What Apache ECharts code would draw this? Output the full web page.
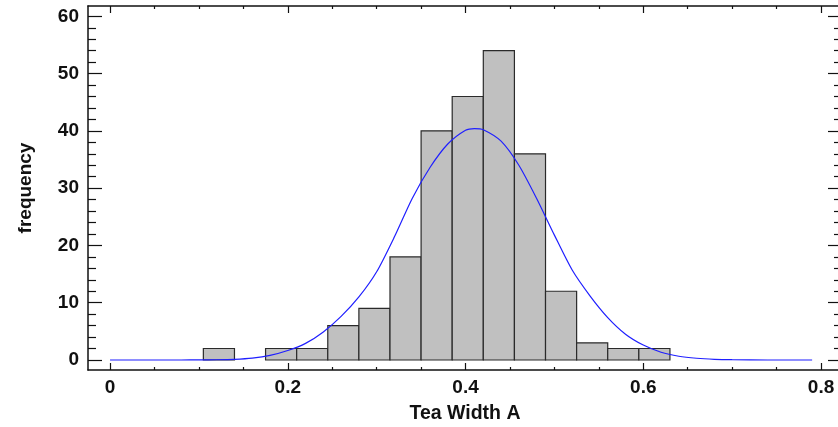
<!DOCTYPE html>
<html>
<head>
<meta charset="utf-8">
<script src="https://cdn.jsdelivr.net/npm/echarts@6/dist/echarts.min.js"></script>
<style>html,body{margin:0;padding:0;background:#fff;}#c{width:838px;height:427px;}</style>
</head>
<body>
<div id="c"></div>
<script>
// Histogram bins (start of each bin) and counts
const binWidth = 0.035;
const binStarts = [0.105, 0.140, 0.175, 0.210, 0.245, 0.280, 0.315, 0.350, 0.385, 0.420, 0.455, 0.490, 0.525, 0.560, 0.595];
const counts    = [2,     0,     2,     2,     6,     9,     18,    40,    46,    54,    36,    12,    3,     2,     2];

// Fitted curve
const curveX = [0, 0.04, 0.08, 0.10, 0.12, 0.14, 0.16, 0.18, 0.20, 0.22, 0.24, 0.26, 0.28, 0.30, 0.32, 0.34, 0.36, 0.38, 0.40, 0.41, 0.42, 0.44, 0.46, 0.48, 0.50, 0.52, 0.54, 0.56, 0.58, 0.60, 0.62, 0.64, 0.66, 0.68, 0.70, 0.74, 0.79];
const curveY = [0, 0, 0, 0.01, 0.04, 0.12, 0.33, 0.8, 1.65, 2.9, 4.9, 7.6, 11.0, 15.4, 21.5, 28.2, 33.6, 37.7, 40.1, 40.4, 40.2, 38.2, 34.0, 28.2, 21.8, 15.7, 11.2, 7.4, 4.5, 2.6, 1.35, 0.65, 0.3, 0.12, 0.05, 0, 0];

// Tick labels
const xMajor = [0, 0.2, 0.4, 0.6, 0.8];
const xMinor = [0.05, 0.1, 0.15, 0.25, 0.3, 0.35, 0.45, 0.5, 0.55, 0.65, 0.7, 0.75];
const yMajor = [0, 10, 20, 30, 40, 50, 60];
const yMinor = [2, 4, 6, 8, 12, 14, 16, 18, 22, 24, 26, 28, 32, 34, 36, 38, 42, 44, 46, 48, 52, 54, 56, 58];

const xMin = -0.0248, xMax = 0.8236;
const yMin = -1.75, yMax = 61.8;
const FONT = 'Liberation Sans, Arial, sans-serif';
const black = '#111';

function xAxisDef(pos, ticks, len, showLine, showLabel, name) {
  return {
    type: 'value', position: pos, min: xMin, max: xMax,
    splitLine: {show: false},
    axisLine: {show: showLine, onZero: false, lineStyle: {color: black, width: 1.5}},
    axisTick: {show: true, inside: true, length: len, customValues: ticks, lineStyle: {color: black, width: 1.2}},
    axisLabel: {show: showLabel, customValues: ticks, margin: 8, fontFamily: FONT, fontWeight: 'bold', fontSize: 19, color: black,
      formatter: v => (v === 0 ? '0' : String(Math.round(v * 10) / 10))},
    name: name || '', nameLocation: 'middle', nameGap: 34,
    nameTextStyle: {fontFamily: FONT, fontWeight: 'bold', fontSize: 19.5, color: black}
  };
}
function yAxisDef(pos, ticks, len, showLine, showLabel, name) {
  return {
    type: 'value', position: pos, min: yMin, max: yMax,
    splitLine: {show: false},
    axisLine: {show: showLine, onZero: false, lineStyle: {color: black, width: 1.5}},
    axisTick: {show: true, inside: true, length: len, customValues: ticks, lineStyle: {color: black, width: 1.2}},
    axisLabel: {show: showLabel, customValues: ticks, margin: 9, fontFamily: FONT, fontWeight: 'bold', fontSize: 19, color: black},
    name: name || '', nameLocation: 'middle', nameGap: 53, nameRotate: 90,
    nameTextStyle: {fontFamily: FONT, fontWeight: 'bold', fontSize: 19, color: black}
  };
}

const chart = echarts.init(document.getElementById('c'), null, {renderer: 'canvas'});
chart.setOption({
  animation: false,
  backgroundColor: '#fff',
  grid: {left: 88, top: 6, width: 754, height: 364, containLabel: false, outerBoundsMode: 'none'},
  xAxis: [
    xAxisDef('bottom', xMajor, 7, true, true, 'Tea Width A'),
    xAxisDef('bottom', xMinor, 3, false, false),
    xAxisDef('top', xMajor, 7, true, false),
    xAxisDef('top', xMinor, 3, false, false)
  ],
  yAxis: [
    yAxisDef('left', yMajor, 14, true, true, 'frequency'),
    yAxisDef('left', yMinor, 8, false, false),
    yAxisDef('right', yMajor, 14, true, false),
    yAxisDef('right', yMinor, 8, false, false)
  ],
  series: [
    {
      type: 'custom', xAxisIndex: 0, yAxisIndex: 0, z: 2,
      data: binStarts.map((s, i) => [s, s + binWidth, counts[i]]).filter(d => d[2] > 0),
      renderItem: function (params, api) {
        const p0 = api.coord([api.value(0), api.value(2)]);
        const p1 = api.coord([api.value(1), 0]);
        return {
          type: 'rect',
          shape: {x: p0[0], y: p0[1], width: p1[0] - p0[0], height: p1[1] - p0[1]},
          style: {fill: '#c0c0c0', stroke: '#2a2a2a', lineWidth: 1.2}
        };
      }
    },
    {
      type: 'line', xAxisIndex: 0, yAxisIndex: 0, z: 3,
      data: curveX.map((x, i) => [x, curveY[i]]),
      showSymbol: false, symbol: 'none', smooth: 0.25,
      lineStyle: {color: '#1f1fff', width: 1.2}
    }
  ]
});
</script>
</body>
</html>
